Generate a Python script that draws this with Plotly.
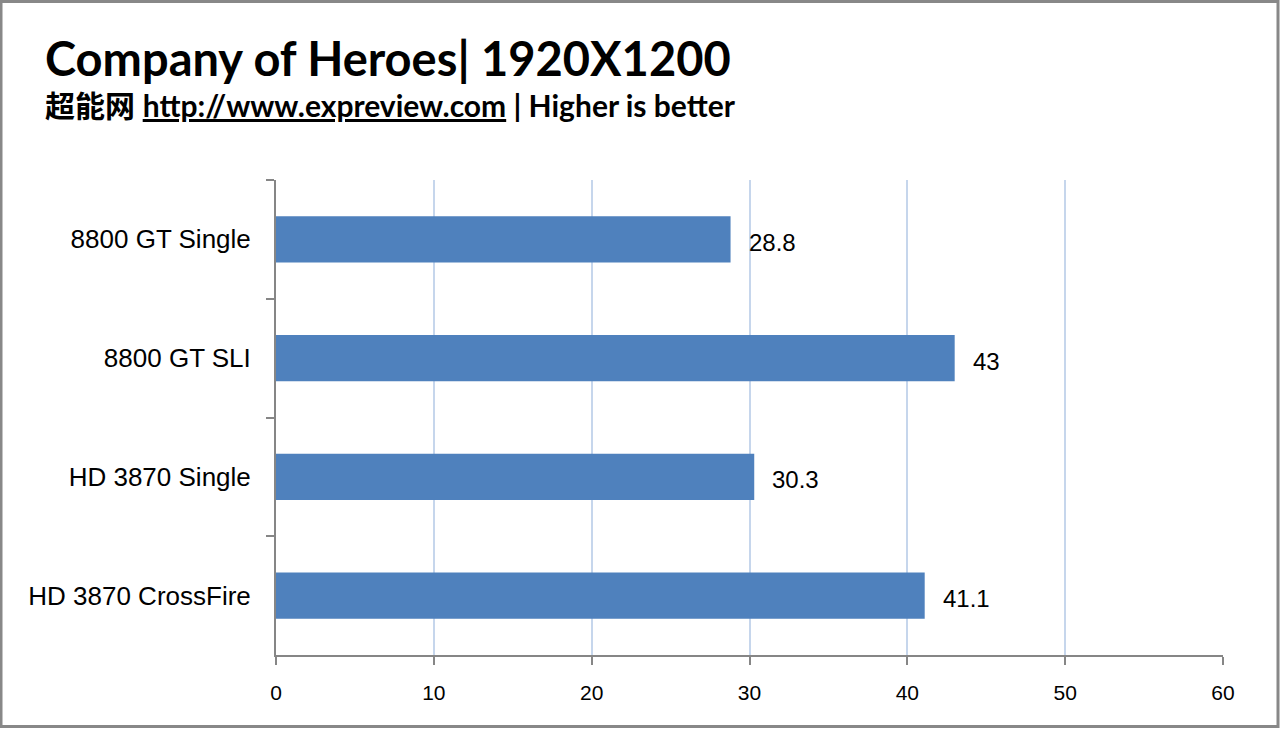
import plotly.graph_objects as go

categories = ["8800 GT Single", "8800 GT SLI", "HD 3870 Single", "HD 3870 CrossFire"]
fps = [28.8, 43, 30.3, 41.1]
x_ticks = [0, 10, 20, 30, 40, 50, 60]
title_text = "Company of Heroes| 1920X1200"
subtitle_cn = "超能网"
subtitle_url = "http://www.expreview.com"
subtitle_rest = " | Higher is better"

W, H = 1280, 729
L, R, T, B = 276, 1223, 180, 655
PW, PH = R - L, B - T

def px(x):
    return (x - L) / PW

def py(y):
    return (B - y) / PH

fig = go.Figure()
fig.add_trace(go.Bar(
    x=fps, y=categories, orientation="h",
    marker=dict(color="#4F81BD", line=dict(width=0)),
    hoverinfo="skip",
))

annotations = []
for c, v in zip(categories, fps):
    annotations.append(dict(
        x=v, y=c, xref="x", yref="y", text=f"{v:g}", showarrow=False,
        xanchor="left", yanchor="middle", xshift=16, yshift=-3,
        font=dict(family="Liberation Sans, Arial", size=24, color="#000000"),
    ))

annotations.append(dict(
    x=px(43), y=py(58), xref="paper", yref="paper", text=f"<b>{title_text}</b>",
    showarrow=False, xanchor="left", yanchor="middle",
    font=dict(family="Lato", size=47, color="#000000"),
))
annotations.append(dict(
    x=px(43), y=py(104), xref="paper", yref="paper",
    text=(f"<span style='font-family:Noto Sans CJK SC'><b>{subtitle_cn}</b></span> "
          f"<b><u>{subtitle_url}</u>{subtitle_rest}</b>"),
    showarrow=False, xanchor="left", yanchor="middle",
    font=dict(family="Lato", size=30, color="#000000"),
))

fig.update_layout(
    width=W, height=H,
    margin=dict(l=L, r=W - R, t=T, b=H - B, pad=0),
    paper_bgcolor="#FFFFFF", plot_bgcolor="#FFFFFF",
    showlegend=False,
    bargap=0.61,
    annotations=annotations,
    xaxis=dict(
        range=[0, 60], tickvals=x_ticks, ticktext=[str(t) for t in x_ticks],
        showgrid=True, gridcolor="#C6D6EC", gridwidth=2,
        showline=True, linecolor="#868686", linewidth=2,
        ticks="outside", ticklen=8, tickwidth=2, tickcolor="#868686",
        tickfont=dict(family="Liberation Sans, Arial", size=21, color="#000000"),
        ticklabelstandoff=10,
        zeroline=False, fixedrange=True,
    ),
    yaxis=dict(
        autorange=False, range=[3.5, -0.5],
        type="category", tickson="boundaries",
        showgrid=False, showline=True, linecolor="#868686", linewidth=2,
        ticks="outside", ticklen=8, tickwidth=2, tickcolor="#868686",
        tickfont=dict(family="Liberation Sans, Arial", size=26, color="#000000"),
        ticklabelstandoff=18,
        zeroline=False, fixedrange=True,
    ),
    shapes=[dict(
        type="rect", xref="paper", yref="paper",
        x0=px(1), x1=px(1278), y0=py(1.5), y1=py(726.5),
        line=dict(color="#888888", width=3), fillcolor="rgba(0,0,0,0)", layer="above",
    )],
)

fig.write_html("out.html", config={"displayModeBar": False})
